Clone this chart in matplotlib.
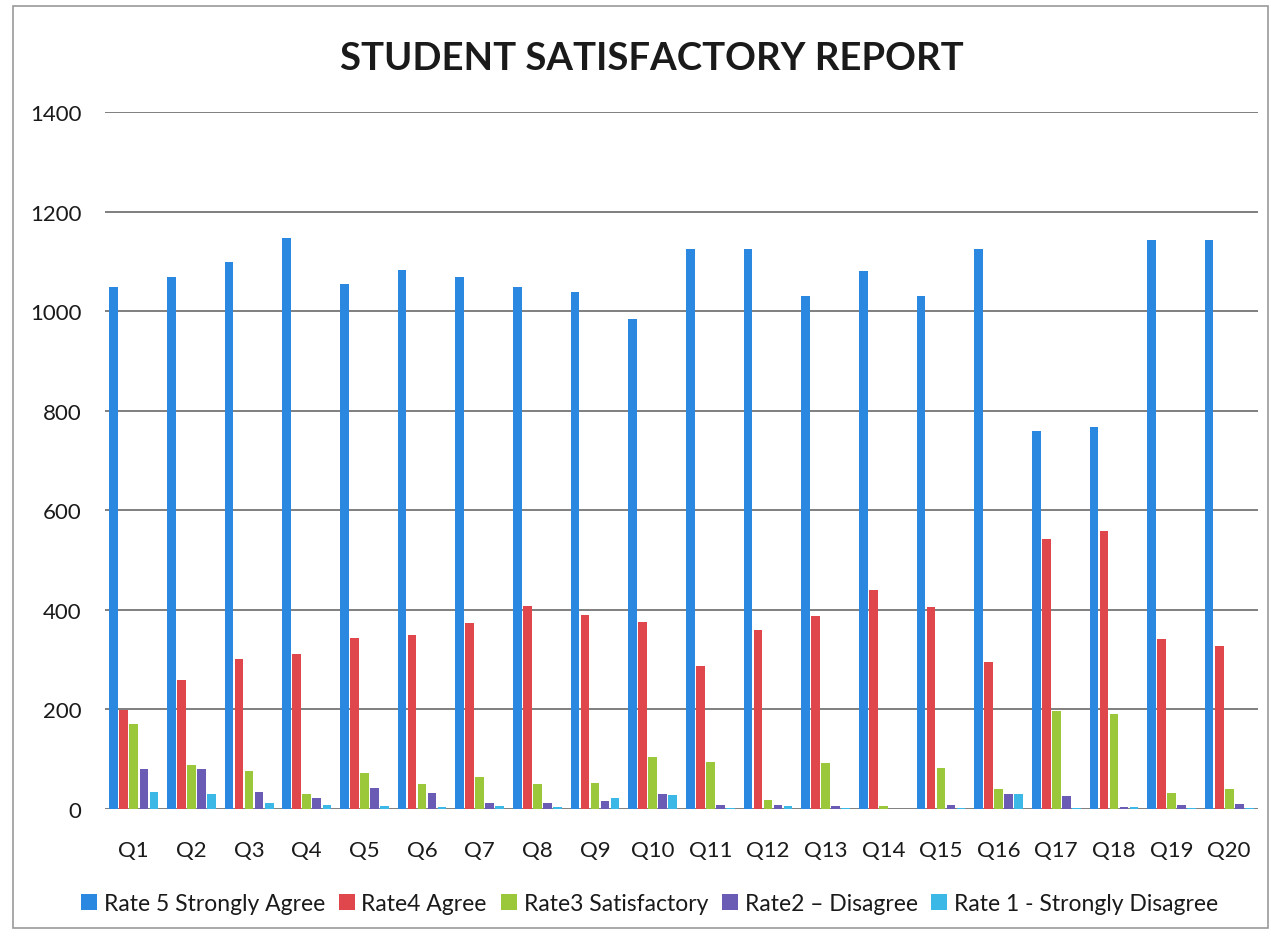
import numpy as np
import matplotlib
matplotlib.use("Agg")
import matplotlib.pyplot as plt
from matplotlib.patches import Rectangle

plt.rcParams['font.family'] = ['Lato', 'DejaVu Sans']

# Data
questions = [f"Q{i}" for i in range(1, 21)]
rate5 = [1049, 1069, 1098, 1147, 1054, 1083, 1068, 1048, 1038, 984,
         1125, 1124, 1030, 1080, 1030, 1125, 760, 767, 1143, 1143]
rate4 = [198, 260, 302, 312, 343, 350, 373, 407, 390, 375,
         288, 360, 387, 440, 405, 296, 543, 559, 342, 327]
rate3 = [171, 89, 76, 30, 73, 51, 64, 50, 52, 104,
         95, 18, 93, 6, 82, 40, 196, 190, 32, 40]
rate2 = [80, 80, 34, 22, 43, 32, 13, 13, 17, 30,
         8, 8, 7, 1, 8, 30, 27, 5, 8, 11]
rate1 = [34, 30, 12, 9, 7, 5, 7, 5, 22, 28,
         3, 6, 2, 1, 3, 31, 3, 5, 2, 3]

series_labels = ["Rate 5 Strongly Agree", "Rate4 Agree", "Rate3 Satisfactory",
                 "Rate2 \u2013 Disagree", "Rate 1 - Strongly Disagree"]
colors = ["#2a88e0", "#e0474c", "#9bc83a", "#6a5cb4", "#3cb8e6"]
yticks = [0, 200, 400, 600, 800, 1000, 1200, 1400]

fig = plt.figure(figsize=(12.71, 9.37), dpi=100)
ax = fig.add_axes([0.0826, 0.1355, 0.9072, 0.7439])

# outer chart frame
fig.patches.append(Rectangle((0.010, 0.009), 0.988, 0.984, transform=fig.transFigure,
                             fill=False, edgecolor="#9a9a9a", linewidth=1.2))

x = np.arange(len(questions))
step = 0.174
width = 0.15
all_series = [rate5, rate4, rate3, rate2, rate1]
for i, (vals, lab, col) in enumerate(zip(all_series, series_labels, colors)):
    ax.bar(x + (i - 2) * step, vals, width=width, color=col, label=lab, zorder=3)

ax.set_xlim(-0.5, len(questions) - 0.5)
ax.set_ylim(0, 1400)
ax.set_yticks(yticks)
ax.set_xticks(x)
ax.set_xticklabels(questions)
ax.tick_params(axis='both', length=0, labelsize=16, colors="#1a1a1a")
ax.tick_params(axis='y', pad=17)
ax.tick_params(axis='x', pad=22)
ax.grid(axis='y', color="#7f7f7f", linewidth=1.4, zorder=0)
for s in ax.spines.values():
    s.set_visible(False)

fig.text(0.513, 0.937, "STUDENT SATISFACTORY REPORT", ha='center', va='center',
         fontsize=27.5, fontweight='bold', color="#1a1a1a")

fig.legend(loc='center', bbox_to_anchor=(0.511, 0.035), ncol=5, frameon=False,
           fontsize=16.5, handlelength=0.7, handleheight=0.7, handletextpad=0.3,
           columnspacing=0.6, labelcolor="#1a1a1a")

plt.savefig("out.png", dpi=100)
